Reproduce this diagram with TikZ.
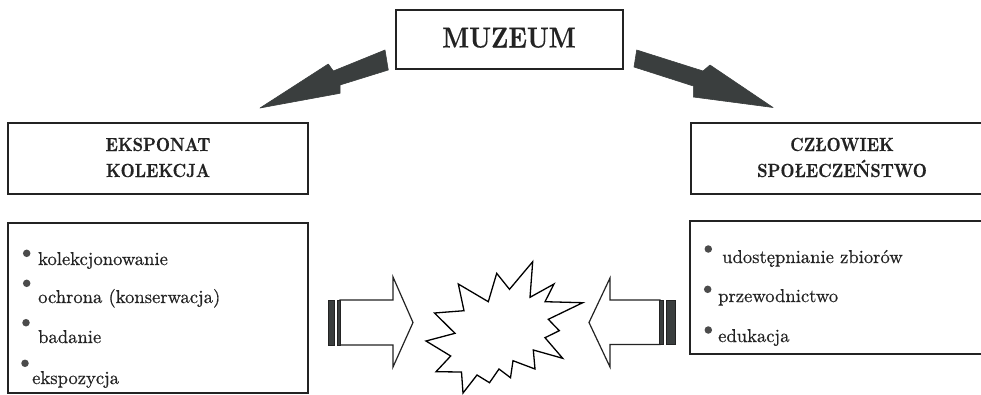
\documentclass[tikz,border=0pt]{standalone}
\usepackage{fontspec}
\newfontfamily\itemfont{lmroman10-regular.otf}[FakeBold=0.5]
\newfontfamily\headfont{lmroman10-bold.otf}[FakeStretch=0.86, FakeBold=0.3]
\newfontfamily\titlefont{lmroman10-bold.otf}[FakeStretch=0.85, FakeBold=0.3]
\definecolor{inkc}{RGB}{35,35,35}
\definecolor{arrowc}{RGB}{58,62,62}
\definecolor{dotc}{RGB}{75,75,75}
\begin{document}
\begin{tikzpicture}[x=1pt,y=-1pt,
  framebox/.style={draw=inkc, line width=1.4pt, rectangle, inner sep=0pt},
  headtxt/.style={font=\headfont\fontsize{19}{21}\selectfont, text=inkc, anchor=base, inner sep=0pt},
  itemtxt/.style={font=\itemfont\fontsize{18.6}{22}\selectfont, text=inkc, anchor=base west, inner sep=0pt},
  bulletdot/.style={circle, fill=dotc, draw=none, inner sep=0pt, minimum size=7.5pt},
  darkarrow/.style={fill=arrowc, draw=arrowc, line width=0.6pt, line join=round},
  hollowarrow/.style={draw=inkc, line width=1.2pt, line join=miter, fill=white},
  stripe/.style={fill=arrowc, draw=inkc, line width=0.6pt},
  starline/.style={draw=black, line width=1.3pt, line join=miter, fill=white}
]
\useasboundingbox (0,0) rectangle (981,394);
\fill[white] (0,0) rectangle (981,394);
\clip (0,0) rectangle (981,394);

% --- boxes ---
\node[framebox, minimum width=227pt, minimum height=59pt] (muzeum) at (509.5,39.5) {};
\node[font=\titlefont\fontsize{29}{32}\selectfont, text=inkc, anchor=base, inner sep=0pt] (tmuzeum) at (509,47.5) {MUZEUM};

\node[framebox, minimum width=300pt, minimum height=71pt] (eksp) at (158,158.5) {};
\node[headtxt] (t1) at (158,151) {EKSPONAT};
\node[headtxt] (t2) at (158,177) {KOLEKCJA};

\node[framebox, minimum width=302pt, minimum height=71pt] (czlow) at (842,158.5) {};
\node[headtxt] (t3) at (842,151) {CZŁOWIEK};
\node[headtxt] (t4) at (842,177) {SPOŁECZEŃSTWO};

\node[framebox, minimum width=300pt, minimum height=170pt] (leftlist) at (158,308) {};
\node[framebox, minimum width=304pt, minimum height=133pt] (rightlist) at (842,287.5) {};

% --- left list ---
\node[bulletdot] (b1) at (26.7,253.3) {};
\node[itemtxt] (l1) at (38,265) {kolekcjonowanie};
\node[bulletdot] (b2) at (26.7,283.3) {};
\node[itemtxt] (l2) at (38,303) {ochrona (konserwacja)};
\node[bulletdot] (b3) at (26,322.7) {};
\node[itemtxt] (l3) at (38,343) {badanie};
\node[bulletdot] (b4) at (25,363.3) {};
\node[itemtxt] (l4) at (32,384) {ekspozycja};

% --- right list ---
\node[bulletdot] (r1b) at (708.3,249) {};
\node[itemtxt] (r1) at (722,263) {udostępnianie zbiorów};
\node[bulletdot] (r2b) at (707.7,289.3) {};
\node[itemtxt] (r2) at (718,302) {przewodnictwo};
\node[bulletdot] (r3b) at (708.3,330) {};
\node[itemtxt] (r3) at (718,342) {edukacja};

% --- dark arrows from MUZEUM ---
\coordinate (la1) at (385,50);
\coordinate (la2) at (388.3,70);
\coordinate (la3) at (340,85);
\coordinate (la4) at (340,93.3);
\coordinate (latip) at (260,108);
\coordinate (la6) at (328.3,64);
\coordinate (la7) at (333.3,71);
\fill[darkarrow] (la1) -- (la2) -- (la3) -- (la4) -- (latip) -- (la6) -- (la7) -- cycle;

\coordinate (ra1) at (636.7,50);
\coordinate (ra2) at (634,67);
\coordinate (ra3) at (693.3,86);
\coordinate (ra4) at (693.3,97);
\coordinate (ratip) at (773,107.5);
\coordinate (ra6) at (710,65);
\coordinate (ra7) at (703,71);
\fill[darkarrow] (ra1) -- (ra2) -- (ra3) -- (ra4) -- (ratip) -- (ra6) -- (ra7) -- cycle;

% --- hollow striped arrows ---
\draw[hollowarrow] (340,300) -- (393,300) -- (393,277) -- (413,322.5) -- (393,367) -- (393,345) -- (340,345) -- cycle;
\draw[stripe] (328,300) rectangle (334,345);
\draw[stripe] (337,300) rectangle (340.5,345);

\draw[hollowarrow] (660,300) -- (610,300) -- (610,278) -- (589,322.5) -- (610,367) -- (610,344.5) -- (660,344.5) -- cycle;
\draw[stripe] (659.5,300) rectangle (663,344.5);
\draw[stripe] (666.5,300) rectangle (675,344.5);

% --- star burst ---
\draw[starline] (532.7,261.7) -- (530,297.3) -- (554,284) -- (545,301.7) -- (582.7,302.7)
  -- (548.3,319.3) -- (559.3,330.7) -- (545,337.7) -- (562.7,358.3) -- (533.3,350)
  -- (535,369) -- (513,360.7) -- (510.5,377.7) -- (499,369) -- (489.5,382.7)
  -- (477,375) -- (463,393) -- (461.5,372) -- (436,371.7) -- (450.7,356)
  -- (426,341) -- (455,333.3) -- (434.5,313) -- (464,310.7) -- (458.3,284)
  -- (488.3,301.7) -- (496.7,273.3) -- (509.5,289.3) -- cycle;
\end{tikzpicture}
\end{document}
